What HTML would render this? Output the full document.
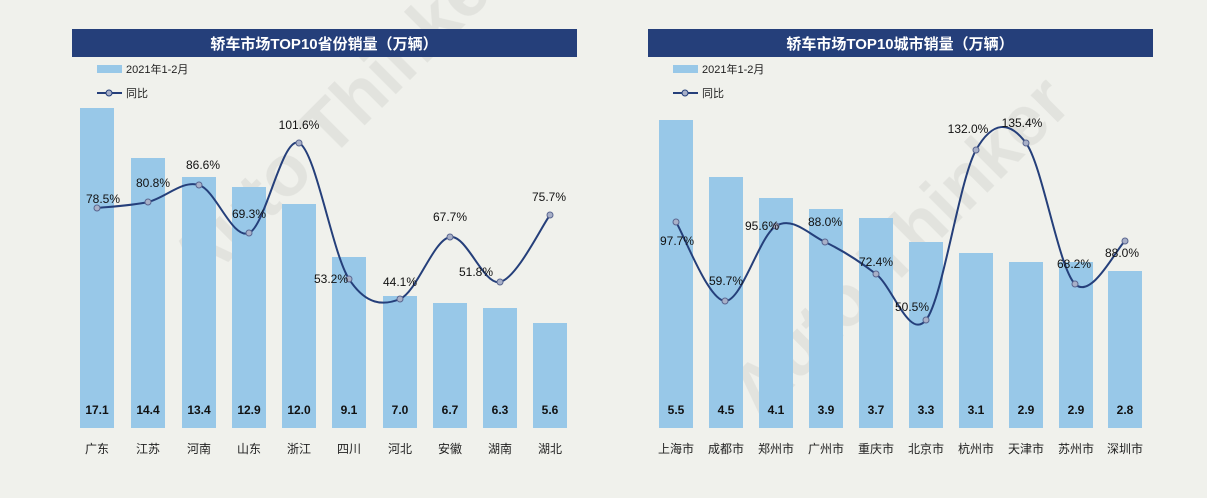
<!DOCTYPE html>
<html><head><meta charset="utf-8">
<style>
html,body{margin:0;padding:0;background:#f0f1ec;}
svg{display:block;font-family:"Liberation Sans","Noto Sans CJK SC",sans-serif;}
</style></head>
<body>
<svg id="s" width="1207" height="498" viewBox="0 0 1207 498" xmlns="http://www.w3.org/2000/svg">
<rect width="1207" height="498" fill="#f0f1ec"/>
<g opacity="0.08" fill="#444" font-weight="bold" font-size="72">
<text x="200" y="290" transform="rotate(-45 200 290)">Auto Thinker</text>
<text x="760" y="420" transform="rotate(-45 760 420)">Auto Thinker</text>
</g>
<g id="g"></g>
</svg>
<script>
const g=document.getElementById('g');
let h='';
function smooth(p){let d=`M${p[0][0]},${p[0][1]}`;for(let i=0;i<p.length-1;i++){const p0=p[i-1]||p[i],p1=p[i],p2=p[i+1],p3=p[i+2]||p2;const t=1/3;const c1=[p1[0]+(p2[0]-p0[0])*t/2,p1[1]+(p2[1]-p0[1])*t/2];const c2=[p2[0]-(p3[0]-p1[0])*t/2,p2[1]-(p3[1]-p1[1])*t/2];d+=` C${c1[0]},${c1[1]} ${c2[0]},${c2[1]} ${p2[0]},${p2[1]}`;}return d;}
function chart(x0,title,cx,vals,tops,cats,pts,labs){
h+=`<rect x="${x0}" y="29" width="505" height="28" fill="#253f7a"/>`;
h+=`<text x="${x0+252}" y="49" fill="#fff" font-size="15" font-weight="bold" text-anchor="middle">${title}</text>`;
h+=`<rect x="${x0+25}" y="65" width="25" height="8" fill="#98c8e8"/><text x="${x0+54}" y="73" font-size="11" fill="#222">2021年1-2月</text>`;
h+=`<line x1="${x0+25}" y1="93" x2="${x0+50}" y2="93" stroke="#253f7a" stroke-width="2"/><circle cx="${x0+37}" cy="93" r="3" fill="#a8b0c8" stroke="#253f7a"/><text x="${x0+54}" y="97" font-size="11" fill="#222">同比</text>`;
cx.forEach((c,i)=>{h+=`<rect x="${c-17}" y="${tops[i]}" width="34" height="${428-tops[i]}" fill="#98c8e8"/>`;
h+=`<text x="${c}" y="414" font-size="12" font-weight="bold" text-anchor="middle" fill="#111">${vals[i]}</text>`;
h+=`<text x="${c}" y="453" font-size="12" text-anchor="middle" fill="#222">${cats[i]}</text>`;});
h+=`<path d="${smooth(pts)}" fill="none" stroke="#253f7a" stroke-width="2"/>`;
pts.forEach(p=>{h+=`<circle cx="${p[0]}" cy="${p[1]}" r="3" fill="#a8b0c8" stroke="#5a6690"/>`;});
labs.forEach(l=>{h+=`<text x="${l[1]}" y="${l[2]+4}" font-size="12" text-anchor="middle" fill="#111">${l[0]}</text>`;});
}
chart(72,'轿车市场TOP10省份销量（万辆）',[97,148,199,249,299,349,400,450,500,550],
['17.1','14.4','13.4','12.9','12.0','9.1','7.0','6.7','6.3','5.6'],
[108,158,177,187,204,257,296,303,308,323],
['广东','江苏','河南','山东','浙江','四川','河北','安徽','湖南','湖北'],
[[97,208],[148,202],[199,185],[249,233],[299,143],[349,279],[400,299],[450,237],[500,282],[550,215]],
[['78.5%',103,199],['80.8%',153,183],['86.6%',203,165],['69.3%',249,214],['101.6%',299,125],['53.2%',331,279],['44.1%',400,282],['67.7%',450,217],['51.8%',476,272],['75.7%',549,197]]);
chart(648,'轿车市场TOP10城市销量（万辆）',[676,726,776,826,876,926,976,1026,1076,1125],
['5.5','4.5','4.1','3.9','3.7','3.3','3.1','2.9','2.9','2.8'],
[120,177,198,209,218,242,253,262,262,271],
['上海市','成都市','郑州市','广州市','重庆市','北京市','杭州市','天津市','苏州市','深圳市'],
[[676,222],[725,301],[776,226],[825,242],[876,274],[926,320],[976,150],[1026,143],[1075,284],[1125,241]],
[['97.7%',677,241],['59.7%',726,281],['95.6%',762,226],['88.0%',825,222],['72.4%',876,262],['50.5%',912,307],['132.0%',968,129],['135.4%',1022,123],['68.2%',1074,264],['88.0%',1122,253]]);
g.innerHTML=h;
</script>
</body></html>
